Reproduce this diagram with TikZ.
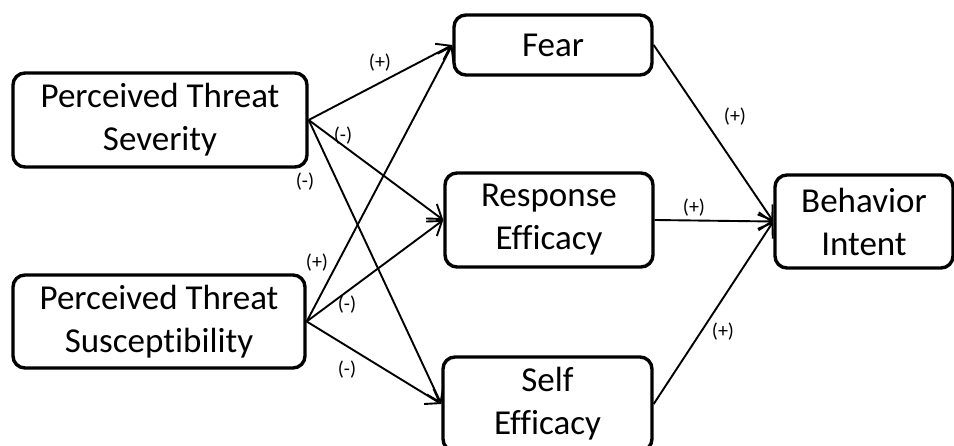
\documentclass[tikz,border=0pt]{standalone}
\usepackage{fontspec}
\setmainfont[Ligatures=NoCommon]{Carlito}
\usetikzlibrary{arrows.meta}
\begin{document}
\begin{tikzpicture}[x=1pt,y=-1pt,
  box/.style={draw, line width=3.4pt, rounded corners=12pt, align=center, inner sep=0pt,
    font=\fontsize{35}{43}\selectfont},
  conn/.style={line width=1.9pt, -{Straight Barb[length=13pt,width=18pt,line width=1.9pt]}},
  lbl/.style={font=\fontsize{20}{22}\selectfont, inner sep=0pt}]
\useasboundingbox (0,0) rectangle (954,446);
\clip (0,0) rectangle (954,446);
\fill[white] (0,0) rectangle (954,446);
\node[box, minimum width=294pt, minimum height=94pt] (sev) at (160,120) {Perceived Threat\\Severity};
\node[box, minimum width=292pt, minimum height=93pt] (sus) at (159,321.5) {Perceived Threat\\Susceptibility};
\node[box, minimum width=198pt, minimum height=60pt] (fear) at (553,45) {Fear};
\node[box, minimum width=208pt, minimum height=94pt] (resp) at (549,220) {Response\\Efficacy};
\node[box, minimum width=209pt, minimum height=94pt] (self) at (547.5,404) {Self\\Efficacy};
\node[box, minimum width=178pt, minimum height=93pt] (beh) at (864,221.5) {Behavior\\Intent};
\draw[conn] (sev.east) -- (fear.west);
\draw[conn] (sev.east) -- (resp.west);
\draw[conn] (sev.east) -- (self.west);
\draw[conn] (sus.east) -- (fear.west);
\draw[conn] (sus.east) -- (resp.west);
\draw[conn] (sus.east) -- (self.west);
\draw[conn] (fear.east) -- (beh.west);
\draw[conn] (resp.east) -- (beh.west);
\draw[conn] (self.east) -- (beh.west);
\node[lbl] (l1) at (380,63) {(+)};
\node[lbl] (l2) at (343,136) {(-)};
\node[lbl] (l3) at (305,182) {(-)};
\node[lbl] (l4) at (317,263) {(+)};
\node[lbl] (l5) at (347,305) {(-)};
\node[lbl] (l6) at (347,370) {(-)};
\node[lbl] (l7) at (735,117) {(+)};
\node[lbl] (l8) at (694,208) {(+)};
\node[lbl] (l9) at (723,332) {(+)};
\end{tikzpicture}
\end{document}
